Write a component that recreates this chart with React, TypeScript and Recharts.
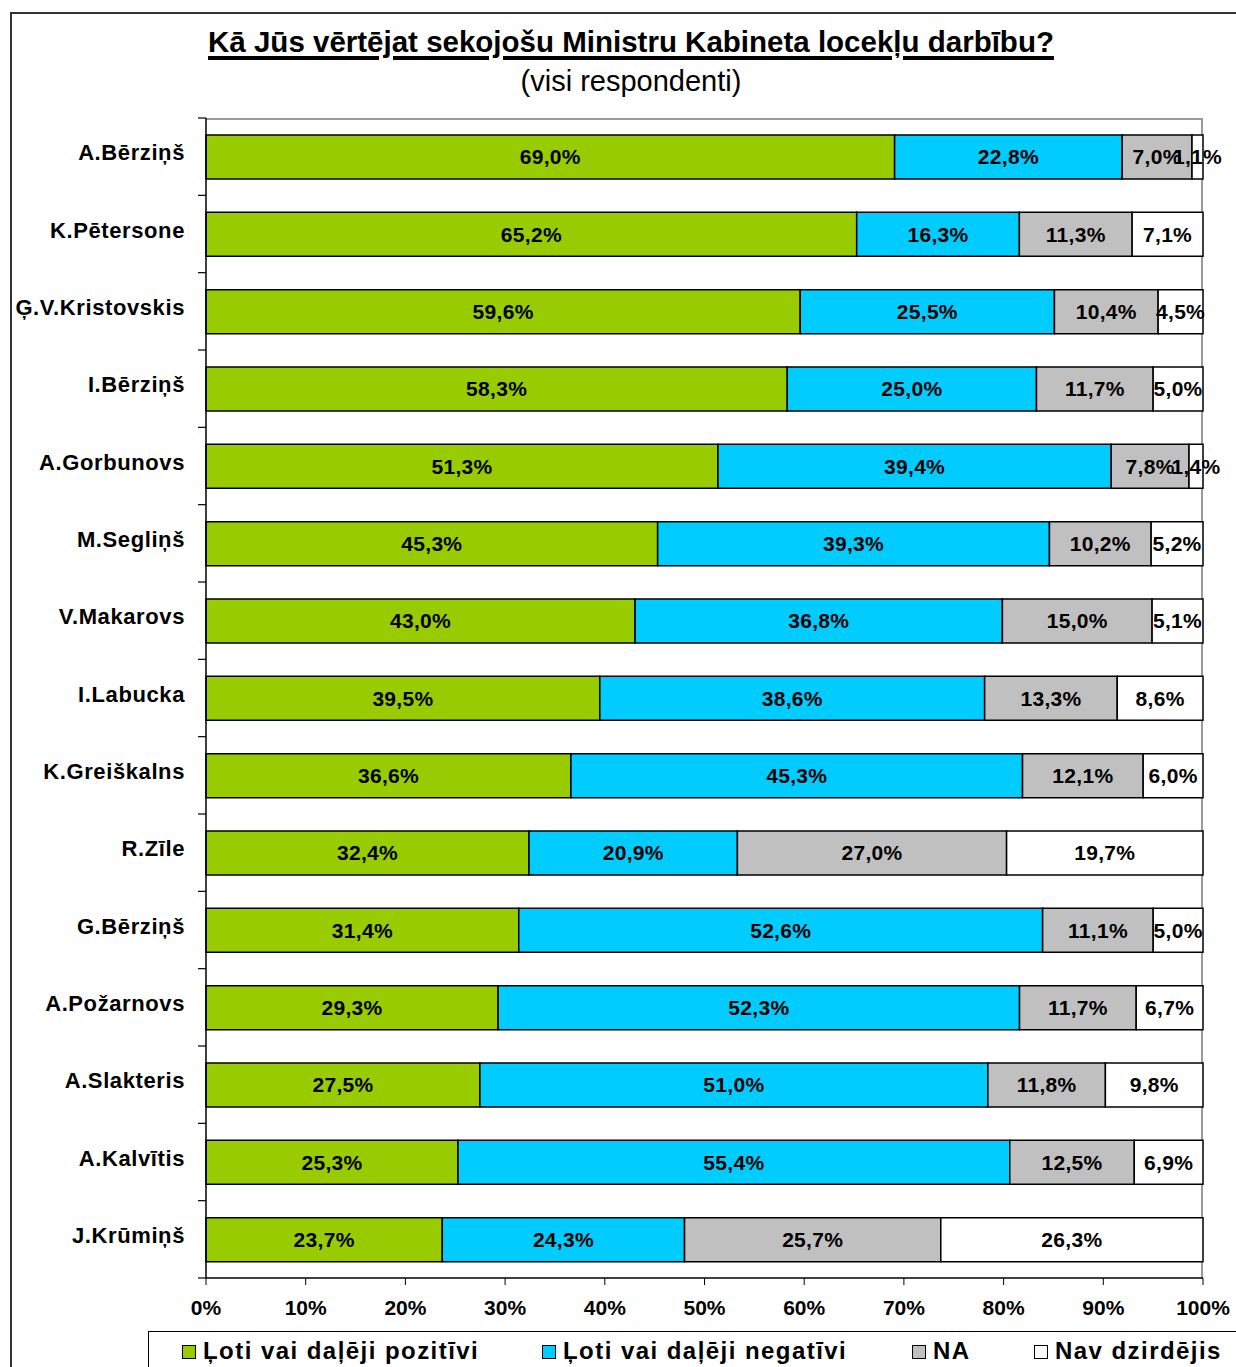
import { BarChart, Bar, XAxis, YAxis, LabelList } from "recharts";

const names = [
  "A.Bērziņš", "K.Pētersone", "Ģ.V.Kristovskis", "I.Bērziņš", "A.Gorbunovs",
  "M.Segliņš", "V.Makarovs", "I.Labucka", "K.Greiškalns", "R.Zīle",
  "G.Bērziņš", "A.Požarnovs", "A.Slakteris", "A.Kalvītis", "J.Krūmiņš",
];
const positive = [69.0, 65.2, 59.6, 58.3, 51.3, 45.3, 43.0, 39.5, 36.6, 32.4, 31.4, 29.3, 27.5, 25.3, 23.7];
const negative = [22.8, 16.3, 25.5, 25.0, 39.4, 39.3, 36.8, 38.6, 45.3, 20.9, 52.6, 52.3, 51.0, 55.4, 24.3];
const na = [7.0, 11.3, 10.4, 11.7, 7.8, 10.2, 15.0, 13.3, 12.1, 27.0, 11.1, 11.7, 11.8, 12.5, 25.7];
const notHeard = [1.1, 7.1, 4.5, 5.0, 1.4, 5.2, 5.1, 8.6, 6.0, 19.7, 5.0, 6.7, 9.8, 6.9, 26.3];
const xTicks = [0, 0.1, 0.2, 0.3, 0.4, 0.5, 0.6, 0.7, 0.8, 0.9, 1];

const seriesKeys = ["pos", "neg", "na", "nh"];
const seriesNames = ["Ļoti vai daļēji pozitīvi", "Ļoti vai daļēji negatīvi", "NA", "Nav dzirdējis"];
const seriesColors = ["#99CC00", "#00CCFF", "#C0C0C0", "#FFFFFF"];

const data = names.map((name, i) => ({
  name,
  pos: positive[i],
  neg: negative[i],
  na: na[i],
  nh: notHeard[i],
}));

const W = 1236;
const H = 1367;
const PLOT_LEFT = 206;
const PLOT_RIGHT = 1203;
const PLOT_TOP = 118;
const PLOT_BOTTOM = 1278;
const BAND = (PLOT_BOTTOM - PLOT_TOP) / names.length;
const FONT = "'Liberation Sans', Arial, sans-serif";

const fmt = (v: any) => `${Number(v).toFixed(1).replace(".", ",")}%`;

const YTick = (props: any) => {
  const { y, payload, index } = props;
  const top = y - BAND / 2;
  return (
    <g>
      <line x1={PLOT_LEFT - 8} x2={PLOT_LEFT} y1={top} y2={top} stroke="#000" strokeWidth={1.2} />
      {index === names.length - 1 && (
        <line x1={PLOT_LEFT - 8} x2={PLOT_LEFT} y1={y + BAND / 2} y2={y + BAND / 2} stroke="#000" strokeWidth={1.2} />
      )}
      <text
        x={185}
        y={y - 4}
        textAnchor="end"
        dominantBaseline="central"
        fontFamily={FONT}
        fontWeight="bold"
        fontSize={22}
        letterSpacing={0.6}
        fill="#000"
      >
        {payload.value}
      </text>
    </g>
  );
};

const legendLefts = [182, 542, 912, 1034];

const labelStyle = { fontFamily: FONT, fontWeight: "bold", fontSize: 21, fill: "#000", letterSpacing: 0.3 } as any;

export default function App() {
  return (
    <div style={{ position: "absolute", left: 0, top: 0, width: W, height: H, background: "#fff", overflow: "hidden" }}>
      {/* outer frame */}
      <div style={{ position: "absolute", left: 10, top: 12, width: W, height: H, borderLeft: "2px solid #333", borderTop: "2px solid #333" }} />
      {/* title */}
      <div
        style={{
          position: "absolute",
          left: 0,
          width: W,
          top: 22,
          textAlign: "center",
          fontFamily: FONT,
          color: "#000",
        }}
      >
        <div
          style={{
            fontWeight: "bold",
            fontSize: 29.5,
            lineHeight: "40px",
            textDecoration: "underline",
            textDecorationThickness: 4,
            textUnderlineOffset: 4,
            paddingLeft: 26,
          }}
        >
          Kā Jūs vērtējat sekojošu Ministru Kabineta locekļu darbību?
        </div>
        <div style={{ fontSize: 29, lineHeight: "38px", paddingLeft: 26 }}>(visi respondenti)</div>
      </div>
      {/* plot area border */}
      <div
        style={{
          position: "absolute",
          left: PLOT_LEFT,
          top: PLOT_TOP,
          width: PLOT_RIGHT - PLOT_LEFT,
          height: PLOT_BOTTOM - PLOT_TOP,
          borderTop: "2px solid #999",
          borderRight: "2px solid #999",
          boxSizing: "border-box",
        }}
      />
      <div style={{ position: "absolute", left: 0, top: 0 }}>
        <BarChart
          width={W}
          height={H}
          data={data}
          layout="vertical"
          stackOffset="expand"
          barSize={44}
          margin={{ top: PLOT_TOP, right: W - PLOT_RIGHT, bottom: H - PLOT_BOTTOM - 40, left: 0 }}
        >
          <XAxis
            type="number"
            domain={[0, 1]}
            ticks={xTicks}
            tickFormatter={(v: number) => `${Math.round(v * 100)}%`}
            tick={{ fontFamily: FONT, fontWeight: "bold", fontSize: 21, fill: "#000" }}
            tickSize={7}
            tickMargin={15}
            tickLine={{ stroke: "#000" }}
            axisLine={{ stroke: "#000", strokeWidth: 1.5 }}
            height={40}
            interval={0}
          />
          <YAxis
            type="category"
            dataKey="name"
            width={PLOT_LEFT}
            tick={<YTick />}
            tickLine={false}
            axisLine={{ stroke: "#000", strokeWidth: 1.5 }}
            interval={0}
          />
          {seriesKeys.map((k, i) => (
            <Bar
              key={k}
              dataKey={k}
              name={seriesNames[i]}
              stackId="a"
              fill={seriesColors[i]}
              stroke="#000"
              strokeWidth={1.5}
              isAnimationActive={false}
            >
              <LabelList dataKey={k} position="center" formatter={fmt} style={labelStyle} />
            </Bar>
          ))}
        </BarChart>
      </div>
      {/* legend */}
      <div
        style={{
          position: "absolute",
          left: 148,
          top: 1331,
          width: W,
          height: 60,
          borderLeft: "1.5px solid #000",
          borderTop: "1.5px solid #000",
        }}
      />
      {seriesNames.map((n, i) => (
        <div
          key={n}
          style={{
            position: "absolute",
            left: legendLefts[i],
            top: 1337,
            display: "flex",
            alignItems: "center",
            fontFamily: FONT,
            fontWeight: "bold",
            fontSize: 24,
            letterSpacing: 1.45,
            color: "#000",
            whiteSpace: "nowrap",
          }}
        >
          <span
            style={{
              display: "inline-block",
              width: 12,
              height: 12,
              background: seriesColors[i],
              border: "1.5px solid #000",
              marginRight: 7,
              marginTop: 2,
            }}
          />
          {n}
        </div>
      ))}
    </div>
  );
}
